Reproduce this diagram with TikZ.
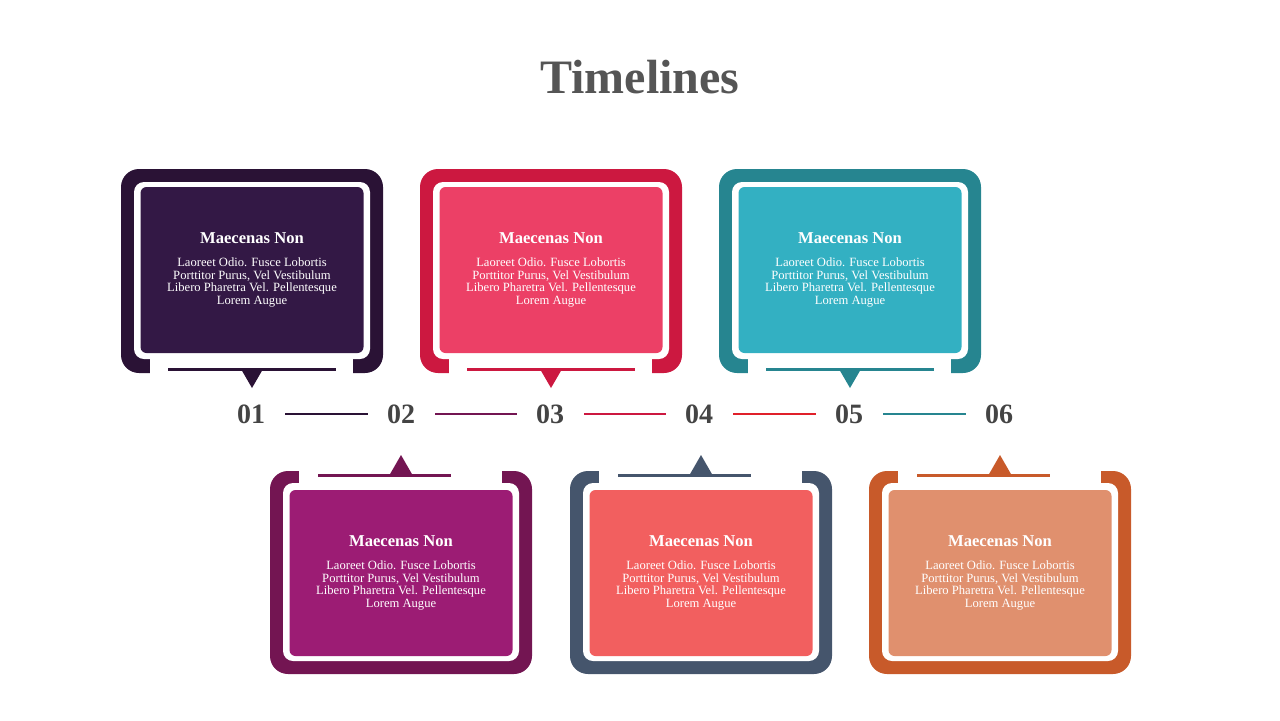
\documentclass[tikz,border=0pt]{standalone}
\usepackage{fontspec}
\setmainfont{Liberation Serif}
\usetikzlibrary{positioning}

\definecolor{titlegrey}{HTML}{555555}
\definecolor{numgrey}{HTML}{444444}
\definecolor{frameA}{HTML}{2A1235}
\definecolor{fillA}{HTML}{331845}
\definecolor{frameB}{HTML}{CC1840}
\definecolor{fillB}{HTML}{EC4066}
\definecolor{frameC}{HTML}{268590}
\definecolor{fillC}{HTML}{33B0C2}
\definecolor{frameD}{HTML}{731552}
\definecolor{fillD}{HTML}{9C1C74}
\definecolor{frameE}{HTML}{45556C}
\definecolor{fillE}{HTML}{F25F5F}
\definecolor{frameF}{HTML}{C85A2A}
\definecolor{fillF}{HTML}{E0906E}
\definecolor{lineD}{HTML}{E0202A}

\begin{document}
\begin{tikzpicture}[
  x=0.5pt, y=-0.5pt,
  card/.style={rounded corners=3pt, minimum width=111.5pt, minimum height=83pt,
    inner sep=0pt, text=white, align=center, font=\fontsize{6.3}{6.4}\selectfont},
  num/.style={text=numgrey, font=\fontsize{14}{16}\selectfont\bfseries,
    minimum width=15pt, inner sep=0pt},
  link/.style={line width=1pt, shorten <=9.5pt, shorten >=9pt}
]
\useasboundingbox (0,0) rectangle (1280,720);

% Title
\node[font=\fontsize{24}{28}\selectfont\bfseries, text=titlegrey] (title) at (640,77) {Timelines};

% Upper cards (pointer below)
\foreach \i/\cx/\fr/\fl in {1/252/frameA/fillA, 3/551/frameB/fillB, 5/850/frameC/fillC} {
  \fill[\fr, rounded corners=9pt] ({\cx-131},169) rectangle ({\cx+131},373);
  \fill[white, rounded corners=5pt] ({\cx-118},182) rectangle ({\cx+118},359);
  \fill[white] ({\cx-102},355) rectangle ({\cx+101},375);
  \node[card, fill=\fl] (c\i) at (\cx,270) {{\fontsize{8.3}{10}\selectfont\bfseries Maecenas Non}\\[5pt]
    Laoreet Odio. Fusce Lobortis\\ Porttitor Purus, Vel Vestibulum\\
    Libero Pharetra Vel. Pellentesque\\ Lorem Augue};
  \draw[\fr, line width=1.5pt] ({\cx-84},369) -- ({\cx+84},369);
  \fill[\fr] ({\cx-11},369) -- ({\cx+11},369) -- (\cx,388) -- cycle;
}

% Lower cards (pointer above)
\foreach \i/\cx/\fr/\fl in {2/401/frameD/fillD, 4/701/frameE/fillE, 6/1000/frameF/fillF} {
  \fill[\fr, rounded corners=9pt] ({\cx-131},471) rectangle ({\cx+131},674);
  \fill[white, rounded corners=5pt] ({\cx-118},483) rectangle ({\cx+118},661);
  \fill[white] ({\cx-102},469) rectangle ({\cx+101},487);
  \node[card, fill=\fl] (c\i) at (\cx,573) {{\fontsize{8.3}{10}\selectfont\bfseries Maecenas Non}\\[5pt]
    Laoreet Odio. Fusce Lobortis\\ Porttitor Purus, Vel Vestibulum\\
    Libero Pharetra Vel. Pellentesque\\ Lorem Augue};
  \draw[\fr, line width=1.5pt] ({\cx-83},475) -- ({\cx+50},475);
  \fill[\fr] ({\cx-11.5},475) -- ({\cx+11.5},475) -- (\cx,455) -- cycle;
}

% Step numbers
\node[num] (n1) at (251,414) {01};
\node[num] (n2) at (401,414) {02};
\node[num] (n3) at (550,414) {03};
\node[num] (n4) at (699,414) {04};
\node[num] (n5) at (849,414) {05};
\node[num] (n6) at (999,414) {06};

\draw[link, frameA] (n1) -- (n2);
\draw[link, frameD] (n2) -- (n3);
\draw[link, frameB] (n3) -- (n4);
\draw[link, lineD]  (n4) -- (n5);
\draw[link, frameC] (n5) -- (n6);

\end{tikzpicture}
\end{document}
